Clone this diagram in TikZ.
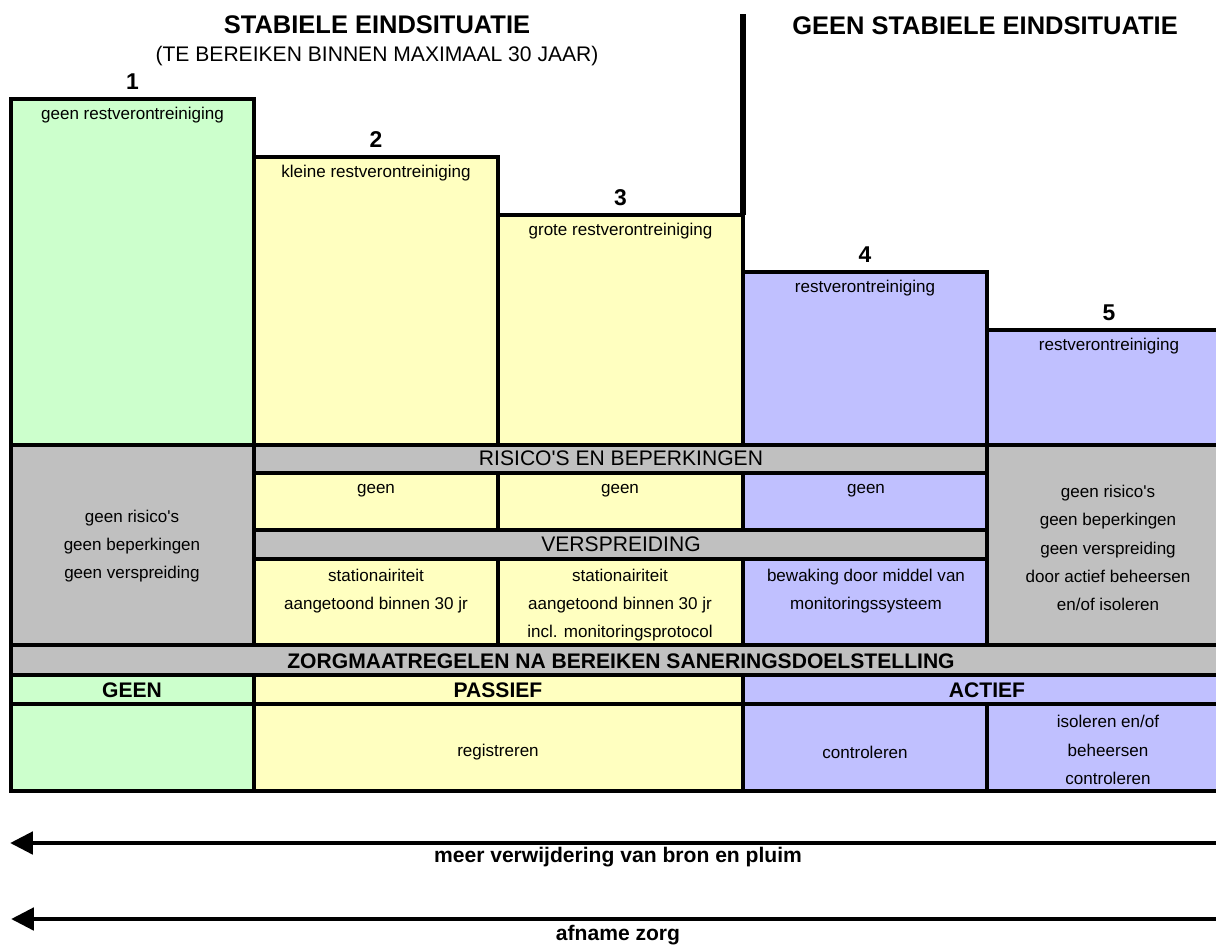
\documentclass[tikz,border=0pt]{standalone}
\usepackage{fontspec}
\setmainfont{Liberation Sans}
\usepackage{xcolor}
\usepackage{tikz}
\usetikzlibrary{arrows.meta}

\definecolor{cellgreen}{RGB}{204,255,204}
\definecolor{cellyellow}{RGB}{255,255,192}
\definecolor{cellblue}{RGB}{192,192,255}
\definecolor{cellgray}{RGB}{192,192,192}

\tikzset{
  cell/.style={draw=black, line width=2.6pt},
  smalltext/.style={font=\fontsize{9.7}{16}\selectfont, align=center, inner sep=0pt},
  bandtext/.style={font=\fontsize{12}{14}\selectfont, inner sep=0pt},
  headtext/.style={font=\bfseries\fontsize{12}{14}\selectfont, inner sep=0pt},
  titletext/.style={font=\bfseries\fontsize{14.5}{17}\selectfont, inner sep=0pt},
  numtext/.style={font=\bfseries\fontsize{13}{15}\selectfont, inner sep=0pt},
  arrowtext/.style={font=\bfseries\fontsize{12}{14}\selectfont, inner sep=0pt},
  bigarrow/.style={line width=2.8pt, -{Triangle[length=13pt, width=12.5pt]}},
}

\begin{document}
\begin{tikzpicture}[x=0.02cm, y=-0.02cm]
    \useasboundingbox (0,0) rectangle (1216,947);

    % Titles
    \node[titletext] (stable) at (377,25) {STABIELE EINDSITUATIE};
    \node[bandtext] (within) at (377,56) {(TE BEREIKEN BINNEN MAXIMAAL 30 JAAR)};
    \node[titletext] (unstable) at (985,26) {GEEN STABIELE EINDSITUATIE};

    % Stepped boxes 1 to 5
    \foreach \n/\xa/\xb/\yt/\col/\txt in {
        1/11/254/99/cellgreen/geen restverontreiniging,
        2/254/498/157/cellyellow/kleine restverontreiniging,
        3/498/743/215/cellyellow/grote restverontreiniging,
        4/743/987/272/cellblue/restverontreiniging,
        5/987/1231/330/cellblue/restverontreiniging} {
        \filldraw[cell, fill=\col] (\xa,\yt) rectangle (\xb,445);
        \node[numtext] (num\n) at ({(\xa+\xb)/2},{\yt-17}) {\n};
        \node[smalltext] (rest\n) at ({(\xa+\xb)/2},{\yt+16}) {\txt};
    }

    % Divider between stable and not stable
    \draw[line width=3.4pt] (743,14) -- (743,215);

    % Risks and spreading
    \filldraw[cell, fill=cellgray] (11,445) rectangle (254,645);
    \filldraw[cell, fill=cellgray] (987,445) rectangle (1231,645);
    \filldraw[cell, fill=cellgray] (254,445) rectangle (987,473);
    \filldraw[cell, fill=cellgray] (254,530) rectangle (987,559);
    \foreach \xa/\xb/\col in {254/498/cellyellow, 498/743/cellyellow, 743/987/cellblue} {
        \filldraw[cell, fill=\col] (\xa,473) rectangle (\xb,530);
        \filldraw[cell, fill=\col] (\xa,559) rectangle (\xb,645);
    }
    \node[bandtext] (risks) at (621,458) {RISICO\textquotesingle S EN BEPERKINGEN};
    \node[bandtext] (spread) at (621,544) {VERSPREIDING};
    \node[smalltext] (none2) at (376,491) {geen};
    \node[smalltext] (none3) at (620,491) {geen};
    \node[smalltext] (none4) at (866,491) {geen};
    \node[smalltext] (left) at (132,546) {geen risico\textquotesingle s\\geen beperkingen\\geen verspreiding};
    \node[smalltext] (right) at (1108,548) {geen risico\textquotesingle s\\geen beperkingen\\geen verspreiding\\door actief beheersen\\en/of isoleren};
    \node[smalltext] (stat2) at (376,591) {stationairiteit\\aangetoond binnen 30 jr};
    \node[smalltext] (stat3) at (620,605) {stationairiteit\\aangetoond binnen 30 jr\\incl. monitoringsprotocol};
    \node[smalltext] (watch4) at (866,591) {bewaking door middel van\\monitoringssysteem};

    % Care measures
    \filldraw[cell, fill=cellgray] (11,645) rectangle (1231,675);
    \filldraw[cell, fill=cellgreen] (11,675) rectangle (254,704);
    \filldraw[cell, fill=cellyellow] (254,675) rectangle (743,704);
    \filldraw[cell, fill=cellblue] (743,675) rectangle (1231,704);
    \filldraw[cell, fill=cellgreen] (11,704) rectangle (254,791);
    \filldraw[cell, fill=cellyellow] (254,704) rectangle (743,791);
    \filldraw[cell, fill=cellblue] (743,704) rectangle (987,791);
    \filldraw[cell, fill=cellblue] (987,704) rectangle (1231,791);
    \node[headtext] (care) at (621,661) {ZORGMAATREGELEN NA BEREIKEN SANERINGSDOELSTELLING};
    \node[headtext] (nocare) at (132,690) {GEEN};
    \node[headtext] (passive) at (498,690) {PASSIEF};
    \node[headtext] (active) at (987,690) {ACTIEF};
    \node[smalltext] (register) at (498,752) {registreren};
    \node[smalltext] (control) at (865,752) {controleren};
    \node[smalltext] (isolate) at (1108,750) {isoleren en/of\\beheersen\\controleren};

    % Arrows
    \coordinate (removestart) at (1216,843);
    \coordinate (removeend) at (10,843);
    \coordinate (carestart) at (1216,919);
    \coordinate (careend) at (11,919);
    \draw[bigarrow] (removestart) -- (removeend);
    \draw[bigarrow] (carestart) -- (careend);
    \node[arrowtext] (removelbl) at (618,857) {meer verwijdering van bron en pluim};
    \node[arrowtext] (carelbl) at (618,935) {afname zorg};
\end{tikzpicture}
\end{document}
